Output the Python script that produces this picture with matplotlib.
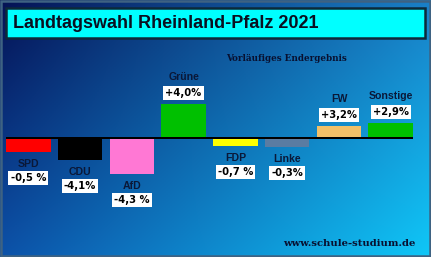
import numpy as np
import matplotlib
matplotlib.use("Agg")
import matplotlib.pyplot as plt
from matplotlib.patches import Rectangle

# election result changes, Rheinland-Pfalz 2021 (preliminary)
parties = ["SPD", "CDU", "AfD", "Grüne", "FDP", "Linke", "FW", "Sonstige"]
changes = ["-0,5 %", "-4,1%", "-4,3 %", "+4,0%", "-0,7 %", "-0,3%", "+3,2%", "+2,9%"]
# bar heights as drawn in the graphic (not to scale with the numbers)
bar_heights = [-14, -22, -36, 34, -8, -9, 12, 15]
colors = ["#ff0000", "#000000", "#ff78d4", "#00c000",
          "#ffff00", "#5a7ca2", "#f2c068", "#00c000"]

W, H = 431, 257
fig = plt.figure(figsize=(W / 72, H / 72), dpi=72)

# background with gradient, pixel coordinates
bg = fig.add_axes([0, 0, 1, 1])
bg.set_xlim(0, W)
bg.set_ylim(H, 0)
bg.axis("off")
tl = np.array([0.02, 0.07, 0.33])
tr = np.array([0.10, 0.50, 0.78])
bl = np.array([0.05, 0.32, 0.66])
br = np.array([0.06, 0.78, 0.97])
u = np.linspace(0, 1, 200)[None, :, None]
v = np.linspace(0, 1, 120)[:, None, None]
grad = (1 - u) * (1 - v) * tl + u * (1 - v) * tr + (1 - u) * v * bl + u * v * br
bg.imshow(grad, extent=(0, W, H, 0), aspect="auto", zorder=0)
bg.add_patch(Rectangle((1, 1), W - 2, H - 2, fill=False, ec="#3e6282", lw=2.5, zorder=1))

# title box
bg.add_patch(Rectangle((6, 8), 419, 30, fc="#00ffff", ec="#0c2a3a", lw=2.5, zorder=2))
bg.text(13, 23, "Landtagswahl Rheinland-Pfalz 2021", fontsize=18, fontweight="bold",
        family="Liberation Sans", color="#0a0f20", va="center", ha="left", zorder=3)
bg.text(286, 58, "Vorläufiges Endergebnis", fontsize=8.7, fontweight="bold",
        family="DejaVu Serif", color="#081030", va="center", ha="center", zorder=3)
bg.text(349, 244, "www.schule-studium.de", fontsize=10, fontweight="bold",
        family="DejaVu Serif", color="#081030", va="center", ha="center", zorder=3)

# bar chart
ax = fig.add_axes([6 / W, 1 - 215 / H, 407 / W, 155 / H])
ax.patch.set_alpha(0)
ax.axis("off")
x = np.arange(len(parties))
ax.bar(x, bar_heights, width=0.86, color=colors, zorder=2)
ax.axhline(0, color="black", lw=2, zorder=3)
ax.set_xlim(-0.43, 7.43)
ax.set_ylim(-77, 78)

for xi, h, name, val in zip(x, bar_heights, parties, changes):
    if h < 0:
        off_name, off_val = -12, -26
    else:
        off_name, off_val = 27, 11
    ax.annotate(name, (xi, h), xytext=(0, off_name), textcoords="offset points",
                ha="center", va="center", fontsize=10.5, fontweight="bold",
                family="Liberation Sans", color="#0a1838")
    ax.annotate(val, (xi, h), xytext=(0, off_val), textcoords="offset points",
                ha="center", va="center", fontsize=10, fontweight="bold",
                family="DejaVu Sans", color="black",
                bbox=dict(boxstyle="square,pad=0.22", fc="white", ec="none"))

fig.savefig("out.png", dpi=72)
